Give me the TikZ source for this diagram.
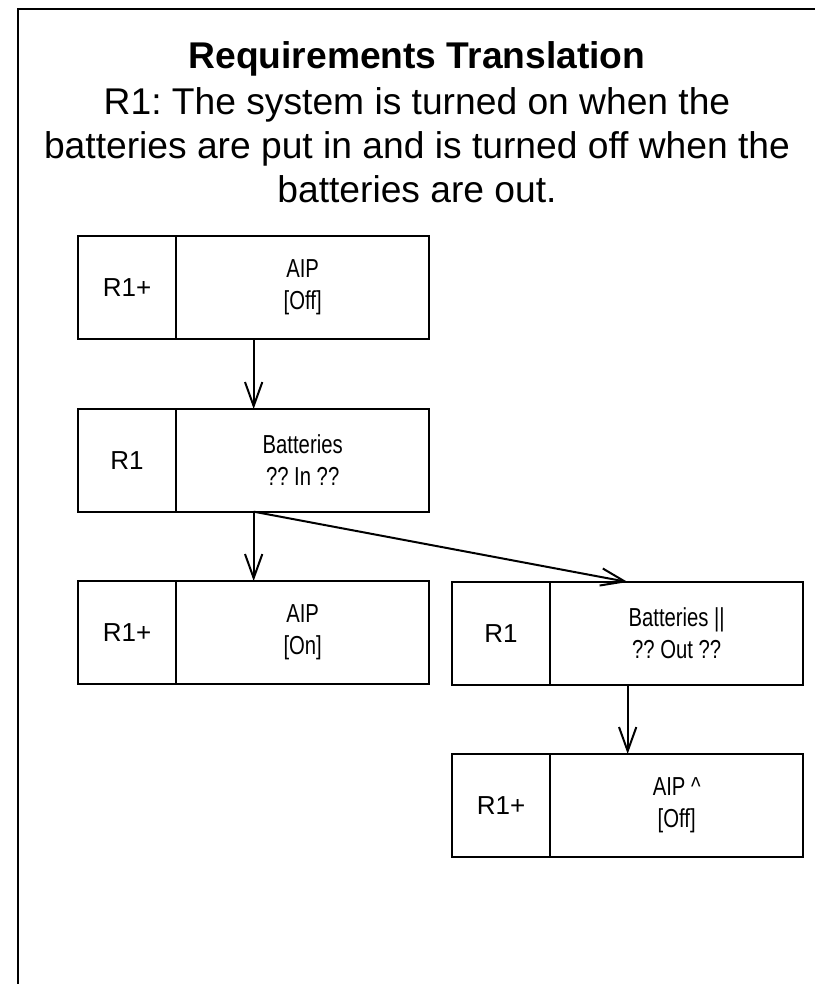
\documentclass[tikz,border=0pt]{standalone}
\usepackage{fontspec}
\setmainfont{Liberation Sans}
\newfontfamily\narrowfont[FakeStretch=0.78]{Liberation Sans}
\usetikzlibrary{positioning,arrows.meta,calc}
\frenchspacing
\newcommand{\Body}{\fontsize{27.9}{33}\selectfont}
\newcommand{\Tag}{\fontsize{19.5}{23}\selectfont}
\newcommand{\Cond}{\narrowfont\fontsize{19.5}{24}\selectfont}
\tikzset{
  tagbox/.style={draw, line width=1.5pt, minimum width=73.5pt, minimum height=77pt,
                 inner sep=0pt, outer sep=0pt, font=\Tag},
  textbox/.style={tagbox, minimum width=190pt, align=center, font=\Cond},
  flow/.style={-{Straight Barb[length=18pt,width=13pt]}, line width=1.5pt},
}

\begin{document}
\begin{tikzpicture}[x=0.75pt,y=-0.75pt]
  \useasboundingbox (0,0) rectangle (815,984);
  \draw[line width=1.5pt] (18,984) |- (815,9);

  \node[font=\Body\bfseries, anchor=base] (title) at (417,69) {Requirements Translation};
  \node[font=\Body, align=center, anchor=north, inner sep=0pt] (req) at (417,87)
    {R1: The system is turned on when the\\
     batteries are put in and is turned off when the\\
     batteries are out.};

  % left column
  \node[tagbox, anchor=north west] (tagA) at (78,236) {R1+};
  \node[textbox, right=0pt of tagA] (aipoff) {AIP\\{}[Off]};
  \node[tagbox, anchor=north west] (tagB) at (78,409) {R1};
  \node[textbox, right=0pt of tagB] (batin) {Batteries\\?? In ??};
  \node[tagbox, anchor=north west] (tagC) at (78,581) {R1+};
  \node[textbox, right=0pt of tagC] (aipon) {AIP\\{}[On]};

  % right column
  \node[tagbox, anchor=north west] (tagD) at (452,582) {R1};
  \node[textbox, right=0pt of tagD] (batout) {Batteries ||\\?? Out ??};
  \node[tagbox, anchor=north west] (tagE) at (452,754) {R1+};
  \node[textbox, right=0pt of tagE] (aipoff2) {AIP \^{}\\{}[Off]};

  \draw[flow] ($(tagA.south west)!.5!(aipoff.south east)$) -- ($(tagB.north west)!.5!(batin.north east)$);
  \draw[flow] ($(tagB.south west)!.5!(batin.south east)$) -- ($(tagC.north west)!.5!(aipon.north east)$);
  \draw[flow] ($(tagB.south west)!.5!(batin.south east)$) -- ($(tagD.north west)!.5!(batout.north east)$);
  \draw[flow] ($(tagD.south west)!.5!(batout.south east)$) -- ($(tagE.north west)!.5!(aipoff2.north east)$);
\end{tikzpicture}
\end{document}
